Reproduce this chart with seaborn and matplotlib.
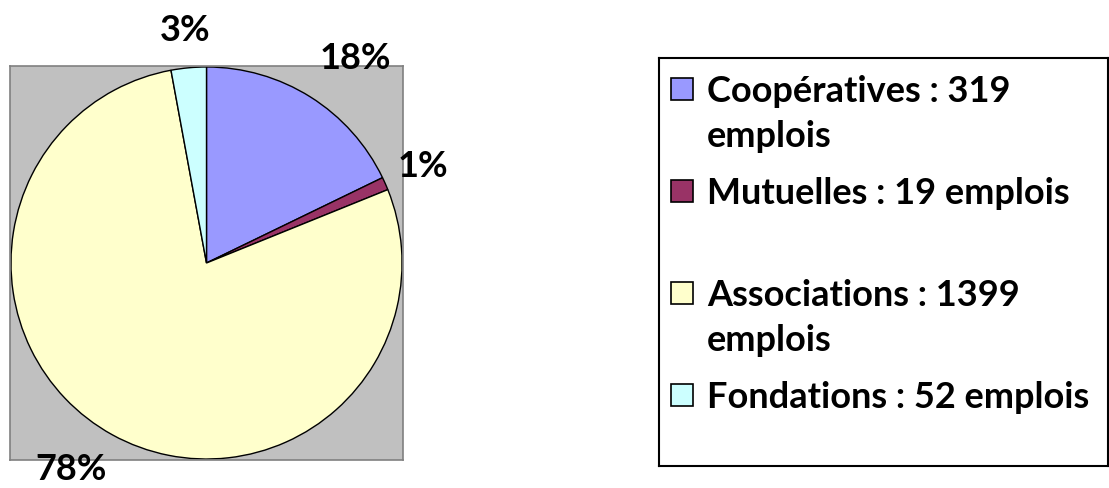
import numpy as np
import matplotlib
matplotlib.use("Agg")
import matplotlib.pyplot as plt
import seaborn as sns
from matplotlib.patches import Rectangle

categories = ["Coopératives", "Mutuelles", "Associations", "Fondations"]
emplois = [319, 19, 1399, 52]
pct_labels = ["18%", "1%", "78%", "3%"]
legend_lines = [["Coopératives : 319", "emplois"],
                ["Mutuelles : 19 emplois"],
                ["Associations : 1399", "emplois"],
                ["Fondations : 52 emplois"]]
colors = ["#9999FF", "#993366", "#FFFFCC", "#CCFFFF"]

sns.set_style("white")
plt.rcParams['font.family'] = ['Lato', 'DejaVu Sans']
palette = sns.color_palette(colors)

W, H = 1109, 488
fig = plt.figure(figsize=(W / 100, H / 100), dpi=100)

# pie plot area (gray square)
px0, py0, px1, py1 = 10, 66, 403, 460
ax = fig.add_axes([px0 / W, 1 - py1 / H, (px1 - px0) / W, (py1 - py0) / H])
wedges, _ = ax.pie(emplois, colors=palette, startangle=90, counterclock=False,
                   wedgeprops=dict(edgecolor="black", linewidth=1.0),
                   frame=True)
ax.set_xlim(-1.005, 1.005)
ax.set_ylim(-1.005, 1.005)
ax.set_aspect("auto")
ax.set_facecolor("#C0C0C0")
ax.set_xticks([])
ax.set_yticks([])
for s in ax.spines.values():
    s.set_color("#808080")
    s.set_linewidth(1.2)

label_dist = [1.29, 1.21, 1.26, 1.19]
label_shift = [-4, 0, -4.5, 0]
for w, lab, d, sh in zip(wedges, pct_labels, label_dist, label_shift):
    ang = np.deg2rad((w.theta1 + w.theta2) / 2 + sh)
    ax.text(d * np.cos(ang), d * np.sin(ang), lab, ha="center", va="center",
            fontsize=26, fontweight="bold", color="black", clip_on=False)

# legend box
lx0, ly0, lx1, ly1 = 659, 58, 1108, 466
lax = fig.add_axes([lx0 / W, 1 - ly1 / H, (lx1 - lx0) / W, (ly1 - ly0) / H])
lax.set_xlim(lx0, lx1)
lax.set_ylim(ly1, ly0)
lax.set_xticks([])
lax.set_yticks([])
for s in lax.spines.values():
    s.set_color("black")
    s.set_linewidth(1.5)

tops = [78, 180, 282, 384]
for top, lines, c in zip(tops, legend_lines, palette):
    lax.add_patch(Rectangle((671, top), 22, 22, facecolor=c, edgecolor="black", linewidth=1.2))
    for i, line in enumerate(lines):
        lax.text(707, top + 24 + i * 45, line, ha="left", va="baseline",
                 fontsize=26, fontweight="bold", color="black")

fig.savefig("out.png", dpi=100)
